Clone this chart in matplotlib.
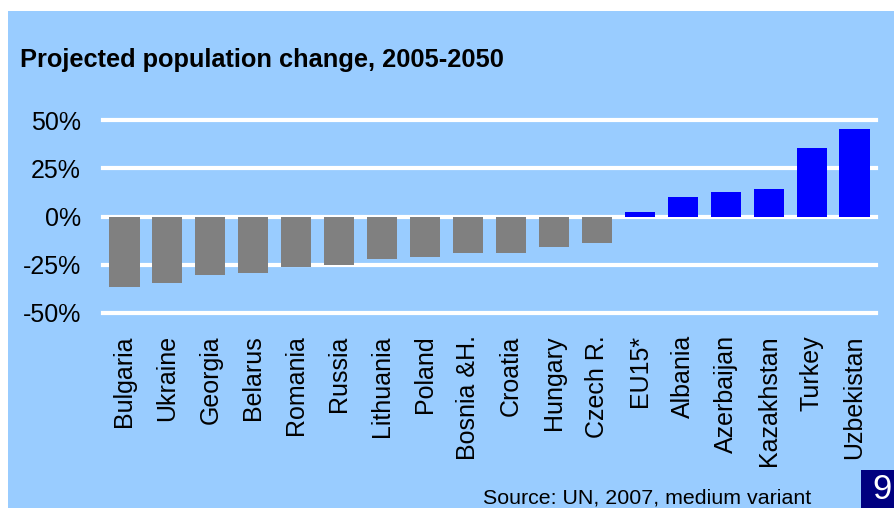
import matplotlib.pyplot as plt
from matplotlib.patches import Rectangle

plt.rcParams['font.family'] = ['Liberation Sans', 'DejaVu Sans']

countries = ['Bulgaria', 'Ukraine', 'Georgia', 'Belarus', 'Romania', 'Russia',
             'Lithuania', 'Poland', 'Bosnia &H.', 'Croatia', 'Hungary', 'Czech R.',
             'EU15*', 'Albania', 'Azerbaijan', 'Kazakhstan', 'Turkey', 'Uzbekistan']
change = [-36.5, -34.4, -30.2, -29.2, -26.1, -25.1, -22.0, -20.9, -18.9, -18.9,
          -15.7, -13.7, 2.3, 10.1, 12.7, 14.2, 35.4, 45.3]
yticks = [-50, -25, 0, 25, 50]
ytick_labels = ['-50%', '-25%', '0%', '25%', '50%']

W, H = 894, 508
fig = plt.figure(figsize=(W / 100, H / 100), dpi=100)
fig.patch.set_facecolor('white')

# light blue panel
fig.patches.append(Rectangle((8 / W, 0), 1 - 8 / W, 1 - 11 / H, transform=fig.transFigure,
                             facecolor='#99CCFF', edgecolor='none', zorder=-1))

ax = fig.add_axes([103 / W, 1 - 313 / H, (876 - 103) / W, (313 - 120) / H])
ax.set_facecolor('none')
ax.set_zorder(1)

colors = ['#808080' if v < 0 else '#0000FF' for v in change]
x = list(range(len(countries)))

for t in yticks:
    ax.axhline(t, color='white', lw=3, clip_on=False, zorder=1)

ax.bar(x, change, width=0.7, color=colors, zorder=2)

ax.set_xlim(-0.5, len(countries) - 0.5)
ax.set_ylim(-50, 50)
ax.set_yticks(yticks)
ax.set_yticklabels(ytick_labels, fontsize=18)
ax.set_xticks(x)
ax.set_xticklabels(countries, rotation=90, fontsize=18, ha='center', va='top')
ax.tick_params(length=0)
ax.tick_params(axis='y', pad=16)
ax.tick_params(axis='x', pad=16)
for s in ax.spines.values():
    s.set_visible(False)

fig.text(20 / W, 1 - 67 / H, 'Projected population change, 2005-2050',
         fontsize=18.3, fontweight='bold', va='baseline', ha='left')
fig.text(811 / W, 1 - 503 / H, 'Source: UN, 2007, medium variant',
         fontsize=15.4, va='baseline', ha='right')

# page number box
fig.patches.append(Rectangle((861 / W, 0), (W - 861) / W, 38 / H, transform=fig.transFigure,
                             facecolor='#000080', edgecolor='none', zorder=3))
fig.text(882 / W, 1 - 499 / H, '9', color='white', fontsize=25, ha='center', va='baseline', zorder=4)

fig.savefig('out.png', dpi=100)
